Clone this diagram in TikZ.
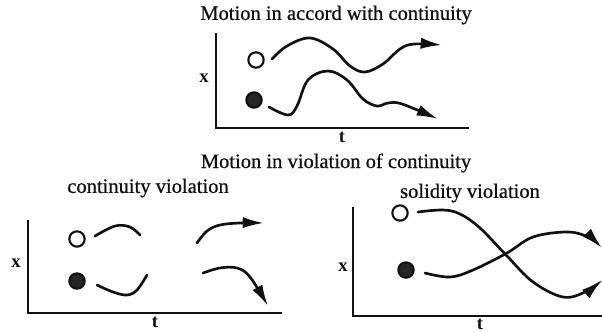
\documentclass[tikz,border=0pt]{standalone}
\usepackage{fontspec}
\setmainfont{Liberation Serif}
\newfontfamily\scanfont{Liberation Serif}[FakeBold=0.7]
\usepackage{tikz}
\usetikzlibrary{arrows.meta, positioning}
\definecolor{ink}{HTML}{111111}
\definecolor{dot}{HTML}{262626}
\tikzset{
  font=\scanfont\fontsize{15.4}{18}\selectfont,
  %
  axis/.style={draw=ink, line width=1.7pt},
  ball/.style={circle, draw=ink, line width=1.6pt, minimum size=11.5pt, inner sep=0pt},
  ballw/.style={ball, fill=white},
  ballb/.style={ball, fill=dot},
  %
  path/.style={draw=ink, line width=2pt, line cap=round},
  patharr/.style={path, -{Latex[length=16pt, width=8.5pt]}},
  %
  title/.style={text=ink, inner sep=1pt},
  subtitle/.style={title},
  axlbl/.style={text=ink, font=\fontsize{14}{16}\selectfont\bfseries, inner sep=0pt},
}
\begin{document}
\begin{tikzpicture}[x=0.75pt, y=-0.75pt]
\useasboundingbox (0,0) rectangle (602,332);

% ------------------------------------------------------------- continuity
\node[title] (ttop) at (336,15) {Motion in accord with continuity};
\draw[axis] (216,33) |- (469,128);
\node[axlbl] (xtop) at (204,78) {x};
\node[axlbl] (ttp) at (342,137) {t};

\node[ballw] (w1) at (256,60) {};
\node[ballb] (b1) at (254,100) {};

\draw[patharr] plot[smooth, tension=0.6] coordinates
  {(272,59) (287,46) (310,38) (333,49) (350,66) (365,72) (383,64) (400,49) (414,44) (442,45)};
\draw[patharr] plot[smooth, tension=0.6] coordinates
  {(269,107) (288,115) (297,106) (308,80) (328,71) (347,80) (363,99) (377,106) (388,103) (402,104) (438,119)};

% ------------------------------------------------------------- violation
\node[title] (tbot) at (336,163) {Motion in violation of continuity};

% left: continuity violation
\node[subtitle] (tcv) at (148,188) {continuity violation};
\draw[axis] (28,220) |- (282,313);
\node[axlbl] (xcv) at (16,263) {x};
\node[axlbl] (tcvx) at (155,322) {t};

\node[ballw] (w2) at (77,239) {};
\node[ballb] (b2) at (77,281) {};

\draw[path] plot[smooth, tension=0.6] coordinates
  {(95,236) (115,226) (130,227) (140,235)};
\draw[path] plot[smooth, tension=0.6] coordinates
  {(97,285) (113,292) (127,295) (137,290) (147,275)};
\draw[patharr] plot[smooth, tension=0.6] coordinates
  {(197,243) (207,231) (220,225) (240,223) (264,223)};
\draw[patharr] plot[smooth, tension=0.6] coordinates
  {(203,273) (220,268) (237,268) (250,277) (268,306)};

% right: solidity violation
\node[subtitle] (tsv) at (470,193) {solidity violation};
\draw[axis] (353,207) |- (602,316);
\node[axlbl] (xsv) at (343,267) {x};
\node[axlbl] (tsvx) at (480,324) {t};

\node[ballw] (w3) at (400,213) {};
\node[ballb] (b3) at (406,270) {};

\draw[patharr] plot[smooth, tension=0.6] coordinates
  {(418,212) (443,210) (460,214) (480,228) (507,256) (533,282) (563,297) (585,292) (602,280)};
\draw[patharr] plot[smooth, tension=0.6] coordinates
  {(425,273) (450,277) (473,270) (507,253) (533,237) (567,232) (588,237) (602,248)};

\end{tikzpicture}
\end{document}
